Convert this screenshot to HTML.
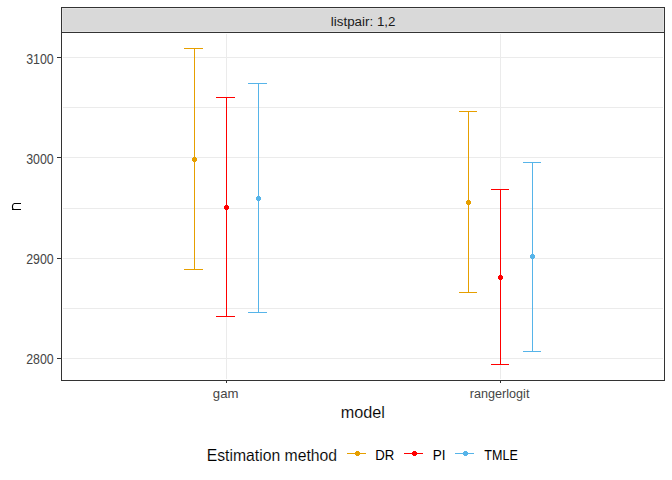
<!DOCTYPE html>
<html><head><meta charset="utf-8"><title>plot</title>
<style>
html,body{margin:0;padding:0;background:#fff;}
body{width:672px;height:480px;overflow:hidden;font-family:"Liberation Sans",sans-serif;}
svg{display:block;font-family:"Liberation Sans",sans-serif;}
svg rect{shape-rendering:crispEdges;}
</style></head><body>
<svg width="672" height="480" viewBox="0 0 672 480">
<rect x="0" y="0" width="672" height="480" fill="#ffffff"/>
<rect x="61" y="7" width="604" height="26" fill="#e2e2e2"/>
<rect x="63" y="9" width="600" height="22" fill="#d9d9d9"/>
<rect x="63" y="107" width="600" height="1" fill="#ebebeb"/>
<rect x="63" y="208" width="600" height="1" fill="#ebebeb"/>
<rect x="63" y="308" width="600" height="1" fill="#ebebeb"/>
<rect x="63" y="57" width="600" height="1" fill="#ebebeb"/>
<rect x="63" y="157" width="600" height="1" fill="#ebebeb"/>
<rect x="63" y="258" width="600" height="1" fill="#ebebeb"/>
<rect x="63" y="358" width="600" height="1" fill="#ebebeb"/>
<rect x="226" y="34" width="1" height="345" fill="#ebebeb"/>
<rect x="500" y="34" width="1" height="345" fill="#ebebeb"/>
<rect x="194" y="48" width="1" height="222" fill="#E69F00"/>
<rect x="184" y="48" width="19" height="1" fill="#E69F00"/>
<rect x="184" y="269" width="19" height="1" fill="#E69F00"/>
<rect x="193" y="157.0" width="3" height="5" fill="#E69F00"/>
<rect x="192" y="158.0" width="5" height="3" fill="#E69F00"/>
<rect x="226" y="97" width="1" height="220" fill="#FF0000"/>
<rect x="216" y="97" width="19" height="1" fill="#FF0000"/>
<rect x="216" y="316" width="19" height="1" fill="#FF0000"/>
<rect x="225" y="205.0" width="3" height="5" fill="#FF0000"/>
<rect x="224" y="206.0" width="5" height="3" fill="#FF0000"/>
<rect x="258" y="83" width="1" height="230" fill="#56B4E9"/>
<rect x="248" y="83" width="19" height="1" fill="#56B4E9"/>
<rect x="248" y="312" width="19" height="1" fill="#56B4E9"/>
<rect x="257" y="196.0" width="3" height="5" fill="#56B4E9"/>
<rect x="256" y="197.0" width="5" height="3" fill="#56B4E9"/>
<rect x="468" y="111" width="1" height="182" fill="#E69F00"/>
<rect x="459" y="111" width="18" height="1" fill="#E69F00"/>
<rect x="459" y="292" width="18" height="1" fill="#E69F00"/>
<rect x="467" y="200.0" width="3" height="5" fill="#E69F00"/>
<rect x="466" y="201.0" width="5" height="3" fill="#E69F00"/>
<rect x="500" y="189" width="1" height="176" fill="#FF0000"/>
<rect x="491" y="189" width="18" height="1" fill="#FF0000"/>
<rect x="491" y="364" width="18" height="1" fill="#FF0000"/>
<rect x="499" y="275.0" width="3" height="5" fill="#FF0000"/>
<rect x="498" y="276.0" width="5" height="3" fill="#FF0000"/>
<rect x="532" y="162" width="1" height="190" fill="#56B4E9"/>
<rect x="523" y="162" width="18" height="1" fill="#56B4E9"/>
<rect x="523" y="351" width="18" height="1" fill="#56B4E9"/>
<rect x="531" y="254.0" width="3" height="5" fill="#56B4E9"/>
<rect x="530" y="255.0" width="5" height="3" fill="#56B4E9"/>
<rect x="61" y="7" width="604" height="1" fill="#333333"/>
<rect x="61" y="32" width="604" height="1" fill="#333333"/>
<rect x="61" y="7" width="1" height="26" fill="#333333"/>
<rect x="664" y="7" width="1" height="26" fill="#333333"/>
<rect x="61" y="32" width="604" height="1" fill="#333333"/>
<rect x="61" y="380" width="604" height="1" fill="#333333"/>
<rect x="61" y="32" width="1" height="349" fill="#333333"/>
<rect x="664" y="32" width="1" height="349" fill="#333333"/>
<rect x="57" y="57" width="4" height="1" fill="#333333"/>
<rect x="57" y="157" width="4" height="1" fill="#333333"/>
<rect x="57" y="258" width="4" height="1" fill="#333333"/>
<rect x="57" y="358" width="4" height="1" fill="#333333"/>
<rect x="226" y="381" width="1" height="2" fill="#333333"/>
<rect x="500" y="381" width="1" height="2" fill="#333333"/>
<text transform="translate(26.17,64) scale(0.967,1.09)" font-size="12.8" fill="#454545">3100</text>
<text transform="translate(26.17,164) scale(0.967,1.09)" font-size="12.8" fill="#454545">3000</text>
<text transform="translate(26.17,264) scale(0.967,1.09)" font-size="12.8" fill="#454545">2900</text>
<text transform="translate(26.17,364) scale(0.967,1.09)" font-size="12.8" fill="#454545">2800</text>
<text transform="translate(212.83,398) scale(1.03,1.05)" font-size="12.8" fill="#454545">gam</text>
<text transform="translate(469.8,398) scale(0.9866,1.07)" font-size="12.8" fill="#454545">rangerlogit</text>
<text transform="translate(330.8,26) scale(1.046,1.07)" font-size="12.8" fill="#1a1a1a">listpair: 1,2</text>
<text transform="translate(340.7,418) scale(1.015,1.01)" font-size="16" fill="#000" stroke="#fff" stroke-width="0.12" paint-order="fill stroke">model</text>
<path d="M21 203.5 H14.4 C12.2 204.0 11.9 207.4 13.2 209.4" fill="none" stroke="#000" stroke-width="1.15"/>
<rect x="12" y="209" width="9" height="1" fill="#000"/>
<text transform="translate(206.69,461) scale(0.985,1.03)" font-size="16" fill="#000" stroke="#fff" stroke-width="0.12" paint-order="fill stroke">Estimation method</text>
<rect x="347" y="453" width="19" height="1" fill="#E69F00"/>
<rect x="356.0" y="451.0" width="3" height="5" fill="#E69F00"/>
<rect x="355.0" y="452.0" width="5" height="3" fill="#E69F00"/>
<text transform="translate(375.32,460) scale(1.031,1.12)" font-size="12.8" fill="#000">DR</text>
<rect x="404" y="453" width="19" height="1" fill="#FF0000"/>
<rect x="413.0" y="451.0" width="3" height="5" fill="#FF0000"/>
<rect x="412.0" y="452.0" width="5" height="3" fill="#FF0000"/>
<text transform="translate(432.69,460) scale(1.058,1.12)" font-size="12.8" fill="#000">PI</text>
<rect x="455" y="453" width="19" height="1" fill="#56B4E9"/>
<rect x="464.0" y="451.0" width="3" height="5" fill="#56B4E9"/>
<rect x="463.0" y="452.0" width="5" height="3" fill="#56B4E9"/>
<text transform="translate(484.36,460) scale(0.98,1.12)" font-size="12.8" fill="#000">TMLE</text>
</svg>
</body></html>
